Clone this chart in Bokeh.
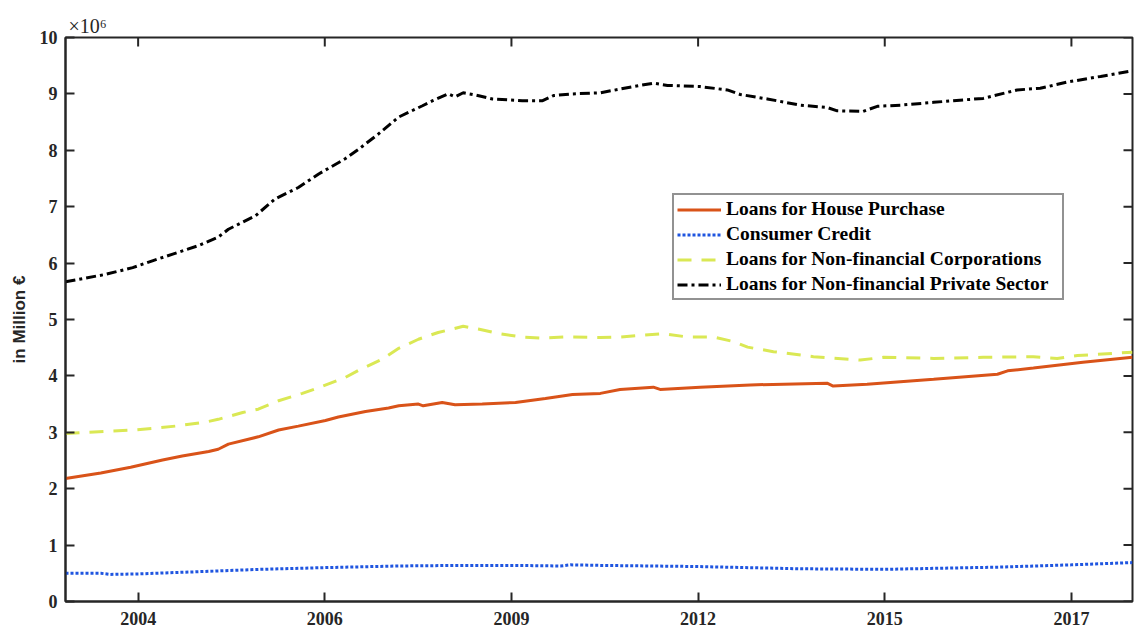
from bokeh.plotting import figure
from bokeh.models import FixedTicker, Legend, LegendItem, Range1d
from bokeh.embed import file_html
from bokeh.resources import INLINE

# ---- data (values in units of 10^6 million EUR, x in decimal years) ----
house_x = [2003.00, 2003.52, 2003.96, 2004.43, 2004.72, 2005.11, 2005.25, 2005.40, 2005.84,
           2006.14, 2006.43, 2006.83, 2007.02, 2007.42, 2007.76, 2007.91, 2008.20, 2008.27,
           2008.55, 2008.74, 2009.14, 2009.63, 2010.07, 2010.47, 2010.88, 2011.17, 2011.66,
           2011.76, 2012.35, 2013.09, 2014.22, 2014.31, 2014.81, 2015.79, 2016.73, 2016.88,
           2017.26, 2017.99, 2018.72]
house_y = [2.18, 2.28, 2.38, 2.51, 2.58, 2.66, 2.70, 2.79, 2.92,
           3.04, 3.11, 3.21, 3.27, 3.37, 3.43, 3.47, 3.50, 3.47,
           3.53, 3.49, 3.50, 3.53, 3.60, 3.67, 3.69, 3.76, 3.80,
           3.76, 3.80, 3.84, 3.87, 3.82, 3.85, 3.94, 4.03, 4.09,
           4.14, 4.24, 4.33]

consumer_x = [2003.00, 2003.52, 2003.66, 2004.10, 2004.99, 2005.87, 2006.79, 2007.93, 2008.82,
              2009.57, 2010.29, 2010.44, 2010.88, 2012.31, 2013.83, 2015.06, 2015.89, 2016.77,
              2017.82, 2018.72]
consumer_y = [0.50, 0.50, 0.48, 0.49, 0.53, 0.57, 0.60, 0.63, 0.64,
              0.64, 0.63, 0.65, 0.64, 0.62, 0.58, 0.57, 0.59, 0.61,
              0.65, 0.69]

corp_x = [2003.00, 2003.49, 2003.99, 2004.37, 2004.62, 2005.06, 2005.25, 2005.61, 2005.84,
          2006.14, 2006.49, 2006.73, 2007.12, 2007.32, 2007.67, 2007.91, 2008.20, 2008.49,
          2008.70, 2008.86, 2009.08, 2009.38, 2009.73, 2010.03, 2010.36, 2010.88, 2011.17,
          2011.81, 2012.16, 2012.54, 2012.84, 2013.05, 2013.43, 2014.02, 2014.71, 2015.05,
          2015.79, 2016.52, 2017.26, 2017.61, 2017.91, 2018.72]
corp_y = [2.98, 3.01, 3.04, 3.08, 3.11, 3.18, 3.23, 3.35, 3.41,
          3.56, 3.69, 3.79, 3.97, 4.10, 4.30, 4.49, 4.65, 4.77,
          4.83, 4.88, 4.83, 4.75, 4.69, 4.67, 4.69, 4.68, 4.69,
          4.75, 4.69, 4.69, 4.61, 4.51, 4.43, 4.34, 4.28, 4.33,
          4.31, 4.33, 4.34, 4.31, 4.36, 4.42]

private_x = [2003.00, 2003.59, 2003.99, 2004.28, 2004.58, 2004.96, 2005.25, 2005.40, 2005.80,
             2006.09, 2006.43, 2006.73, 2007.12, 2007.32, 2007.61, 2007.82, 2007.91, 2008.26,
             2008.41, 2008.64, 2008.74, 2008.86, 2009.04, 2009.29, 2009.73, 2010.03, 2010.19,
             2010.47, 2010.88, 2011.37, 2011.66, 2011.87, 2012.35, 2012.75, 2012.94, 2013.34,
             2013.83, 2014.22, 2014.37, 2014.75, 2014.96, 2015.30, 2015.79, 2016.08, 2016.52,
             2017.02, 2017.36, 2017.76, 2018.25, 2018.72]
private_y = [5.67, 5.80, 5.92, 6.04, 6.16, 6.31, 6.46, 6.60, 6.84,
             7.14, 7.34, 7.58, 7.85, 8.02, 8.29, 8.50, 8.59, 8.79,
             8.88, 9.00, 8.95, 9.02, 8.98, 8.91, 8.88, 8.88, 8.97,
             9.00, 9.02, 9.13, 9.19, 9.15, 9.13, 9.07, 8.99, 8.91,
             8.80, 8.76, 8.70, 8.69, 8.78, 8.80, 8.85, 8.88, 8.92,
             9.07, 9.10, 9.21, 9.31, 9.41]

series_names = ["Loans for House Purchase", "Consumer Credit",
                "Loans for Non-financial Corporations", "Loans for Non-financial Private Sector"]

x_tick_pos = [2004.07, 2006.82, 2009.57, 2012.32, 2015.07, 2017.82]
x_tick_labels = ["2004", "2006", "2009", "2012", "2015", "2017"]
y_ticks = list(range(0, 11))
scale_label = "×10⁶"
y_label = "in Million €"

X0, X1, Y0, Y1 = 2003.0, 2018.72, 0, 10
SERIF = "Liberation Serif"
AX = "#262626"

p = figure(width=1134, height=631, output_backend="svg", toolbar_location=None,
           x_range=Range1d(X0, X1), y_range=Range1d(Y0, Y1),
           min_border_left=65, min_border_right=2, min_border_top=37, min_border_bottom=30)
p.background_fill_color = "white"
p.border_fill_color = "white"
p.outline_line_color = AX
p.outline_line_width = 2
p.xgrid.visible = False
p.ygrid.visible = False

def style_axis(ax):
    ax.axis_line_width = 2
    ax.axis_line_color = AX
    ax.major_tick_line_color = AX
    ax.major_tick_line_width = 2
    ax.major_tick_in = 9
    ax.major_tick_out = 0
    ax.minor_tick_line_color = None
    ax.major_label_text_font = SERIF
    ax.major_label_text_font_style = "bold"
    ax.major_label_text_font_size = "18px"
    ax.major_label_text_color = AX

xa = p.xaxis[0]
xa.ticker = FixedTicker(ticks=x_tick_pos)
xa.major_label_overrides = {t: l for t, l in zip(x_tick_pos, x_tick_labels)}
style_axis(xa)
xa.major_label_standoff = 10

ya = p.yaxis[0]
ya.ticker = FixedTicker(ticks=y_ticks)
style_axis(ya)
ya.major_label_standoff = 8
ya.axis_label = y_label
ya.axis_label_text_font = "Liberation Sans"
ya.axis_label_text_font_style = "bold"
ya.axis_label_text_font_size = "17px"
ya.axis_label_text_color = AX
ya.axis_label_standoff = 8

# mirrored inward ticks on the top and right edges of the box (9 px long)
tick_dy = 9 * (Y1 - Y0) / 564
tick_dx = 9 * (X1 - X0) / 1067
p.segment(x0=x_tick_pos, y0=[Y1] * len(x_tick_pos), x1=x_tick_pos,
          y1=[Y1 - tick_dy] * len(x_tick_pos), line_color=AX, line_width=2)
p.segment(x0=[X1] * len(y_ticks), y0=y_ticks, x1=[X1 - tick_dx] * len(y_ticks),
          y1=y_ticks, line_color=AX, line_width=2)

r1 = p.line(house_x, house_y, line_color="#D95319", line_width=3)
r2 = p.line(consumer_x, consumer_y, line_color="#1F55E0", line_width=3, line_dash="3 2")
r3 = p.line(corp_x, corp_y, line_color="#DAE854", line_width=3, line_dash="14 10")
r4 = p.line(private_x, private_y, line_color="black", line_width=3, line_dash="10 4 3 4")

legend = Legend(items=[LegendItem(label=n, renderers=[r]) for n, r in zip(series_names, [r1, r2, r3, r4])],
                location=(607, 301))
legend.label_text_font = SERIF
legend.label_text_font_style = "bold"
legend.label_text_font_size = "19.5px"
legend.label_text_color = "black"
legend.border_line_color = AX
legend.border_line_width = 2
legend.background_fill_color = "white"
legend.background_fill_alpha = 1
legend.glyph_width = 44
legend.glyph_height = 21
legend.label_height = 21
legend.label_width = 333
legend.spacing = 3
legend.padding = 3
legend.margin = 0
legend.label_standoff = 5
p.add_layout(legend, "center")

p.title.text = scale_label
p.title.align = "left"
p.title.offset = 3
p.title.standoff = 2
p.title.text_font = SERIF
p.title.text_font_style = "normal"
p.title.text_font_size = "20px"
p.title.text_color = AX

open("out.html", "w").write(file_html(p, INLINE))
